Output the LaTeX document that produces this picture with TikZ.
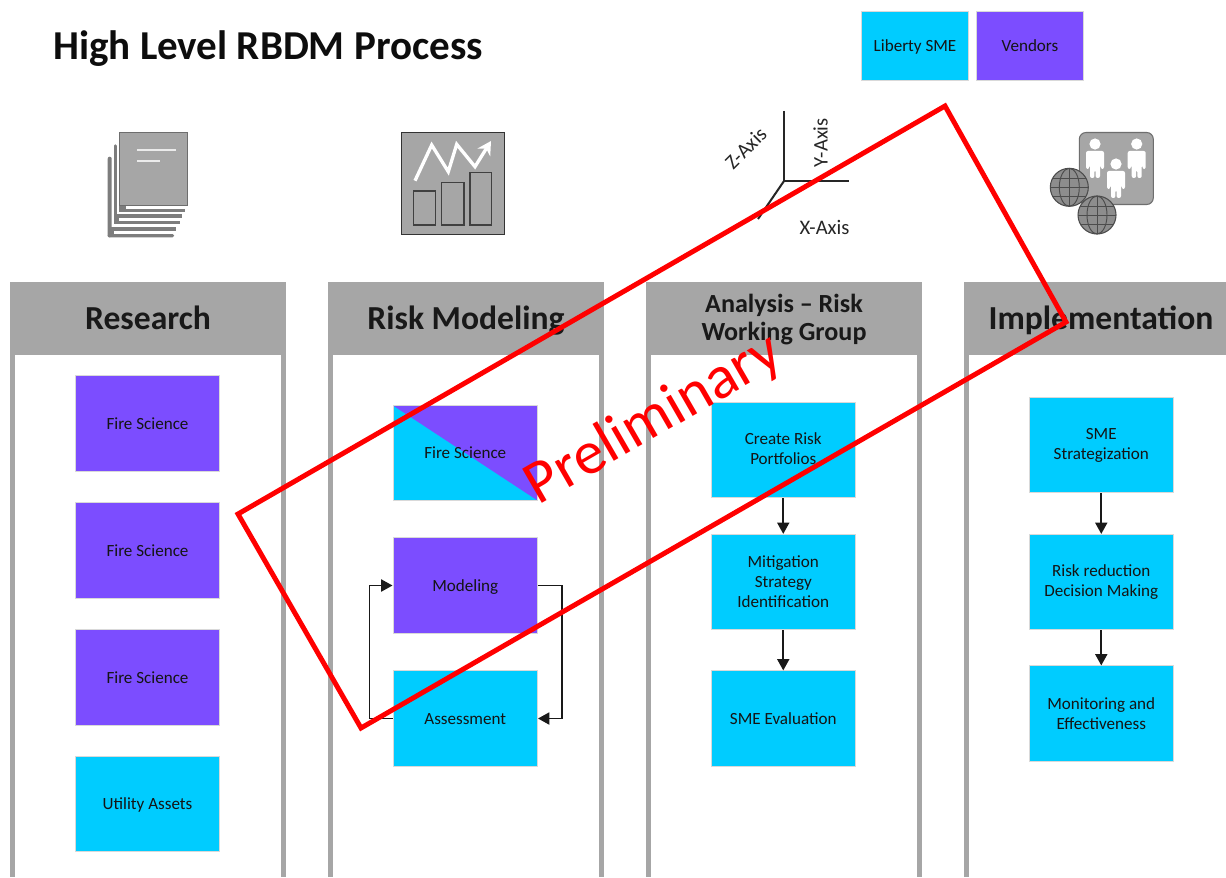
\documentclass[tikz,border=0pt]{standalone}
\usepackage{fontspec}
\setmainfont{Carlito}
\usetikzlibrary{arrows.meta,calc}
\definecolor{cy}{HTML}{00CCFF}
\definecolor{pu}{HTML}{7C4DFF}
\definecolor{gr}{HTML}{A6A6A6}
\definecolor{dk}{HTML}{6E6E6E}
\definecolor{rd}{HTML}{FF0000}
\tikzset{
  boxfont/.style={font=\fontsize{12.8}{15}\selectfont,text=black!92},
  box/.style={draw=black!15,line width=.6pt,minimum width=108.5pt,minimum height=71.5pt,inner sep=1pt,align=center,boxfont},
  oneline/.style={text height=8.6pt,text depth=0pt},
  cybox/.style={box,fill=cy},
  pubox/.style={box,fill=pu},
  keybox/.style={box,oneline,minimum width=80pt,minimum height=52pt},
  hdr/.style={inner sep=0pt,align=center,text=black!90,font=\bfseries\fontsize{25.2}{28}\selectfont,text height=17pt,text depth=1pt},
  hdrsm/.style={inner sep=0pt,align=center,text=black!90,font=\bfseries\fontsize{19.6}{21}\selectfont},
  flow/.style={draw=black!90,line width=1.4pt,-{Triangle[length=8.5pt,width=9pt]}},
  axis/.style={draw=black!85,line width=1.5pt},
  axlabel/.style={font=\fontsize{15.5}{18}\selectfont,text=black!85,inner sep=0pt},
  strip/.style={fill=dk!90!white,draw=none},
  icon/.style={draw=dk,fill=gr,line width=.9pt},
  bar/.style={draw=black!75,fill=gr,line width=.9pt},
  whiteln/.style={draw=white!92!black,line width=1.5pt},
  person/.style={fill=white,draw=none},
  globeln/.style={draw=black!70,line width=.7pt},
}
\newcommand{\panelat}[1]{%
  \fill[gr] (#1,282) rectangle ++(276,73);
  \fill[gr] (#1,355) rectangle ++(5,522);
  \fill[gr] (#1+271,355) rectangle ++(5,522);
}
\newcommand{\globeat}[2]{%
  \begin{scope}[shift={(#1,#2)}]
    \fill[gr!85!black] (0,0) circle [radius=19];
    \draw[globeln] (-19,0) -- (19,0) (-17,-9) -- (17,-9) (-17,9) -- (17,9) (0,-19) -- (0,19);
    \draw[globeln] (0,0) ellipse [x radius=10,y radius=19];
    \draw[draw=black!70,line width=.8pt] (0,0) circle [radius=19];
  \end{scope}
}
\newcommand{\personat}[3]{%
  \begin{scope}[shift={(#1,#2)},scale=#3]
    \fill[person] (0,-21) circle [radius=5.6];
    \fill[person,rounded corners=1.5] (-9,-14) -- (9,-14) -- (9,4) -- (5.8,4) -- (5.8,0) -- (5,0) -- (5,13) -- (.6,13) -- (.6,5) -- (-.6,5) -- (-.6,13) -- (-5,13) -- (-5,0) -- (-5.8,0) -- (-5.8,4) -- (-9,4) -- cycle;
  \end{scope}
}
\begin{document}
\begin{tikzpicture}[x=.75pt,y=-.75pt]
\useasboundingbox (0,0) rectangle (1226,877);
\clip (0,0) rectangle (1226,877);
\fill[white] (0,0) rectangle (1226,877);

\node[anchor=base west,inner sep=0pt,font=\bfseries\fontsize{30.8}{34}\selectfont,text=black!95] (title) at (53,59.5) {High Level RBDM Process};

\node[keybox,fill=cy] (k1) at (915,46) {Liberty SME};
\node[keybox,fill=pu] (k2) at (1030,46) {Vendors};

% icon 1: documents
\fill[strip,rounded corners=1.5] (107.7,156.7) rectangle (111.7,237.3);
\fill[strip,rounded corners=1] (107.7,234) rectangle (174,237.3);
\fill[strip] (107.7,227.3) rectangle (176,230.7);
\fill[strip] (107.7,227.3) rectangle (114,237.3);
\fill[strip,rounded corners=1] (114,144.3) rectangle (116.8,224);
\fill[strip] (114,214.3) rectangle (182.3,217.7);
\fill[strip] (114,220.7) rectangle (180.3,224);
\fill[strip] (114,214.3) rectangle (119.3,224);
\fill[strip] (119.3,205) rectangle (125.7,211.7);
\fill[strip] (119.3,209) rectangle (185,211.7);
\draw[icon] (119.5,132.5) rectangle (187.2,205.5);
\draw[whiteln] (137,150) -- (176,150);
\draw[whiteln] (137,161) -- (160,161);

% icon 2: chart
\draw[fill=gr,draw=black!80,line width=.8pt] (401.5,132.5) rectangle (504.2,234.2);
\draw[bar] (413.5,191) rectangle (435.3,225);
\draw[bar] (441.5,182.5) rectangle (464,225);
\draw[bar] (470,172.5) rectangle (491.7,225);
\draw[white,line width=2.5pt,line join=miter,-{Stealth[length=10pt,width=11pt]}] (415,180.7) -- (431.7,145) -- (448.3,171.7) -- (456.7,144.3) -- (475,166.7) -- (491,141);

% icon 3: axes
\draw[axis] (784,111) -- (784,181);
\draw[axis] (784,181) -- (849,181);
\draw[axis] (784,181) -- (758,219);
\node[axlabel,rotate=45] (z) at (745.7,148.3) {Z-Axis};
\node[axlabel,rotate=90] (y) at (820.5,142.7) {Y-Axis};
\node[axlabel] (x) at (824.5,227.5) {X-Axis};

% icon 4: people and globes
\draw[fill=gr,draw=dk,line width=.8pt,rounded corners=5] (1079.3,132.5) rectangle (1153.3,204.5);
\personat{1095}{165}{1}
\personat{1136.7}{165}{1}
\personat{1116}{185}{1}
\globeat{1069.3}{187.3}
\globeat{1097}{215}

% panels
\panelat{10}\panelat{328}\panelat{646}\panelat{964}
\node[hdr] (h1) at (148,318.5) {Research};
\node[hdr] (h2) at (466,318.5) {Risk Modeling};
\node[hdrsm] (h3) at (784,320) {Analysis – Risk\\Working Group};
\node[hdr] (h4) at (1101,318.5) {Implementation};

% column 1
\node[pubox,oneline] (a1) at (147.5,423.5) {Fire Science};
\node[pubox,oneline] (a2) at (147.5,550.5) {Fire Science};
\node[pubox,oneline] (a3) at (147.5,677.5) {Fire Science};
\node[cybox,oneline] (a4) at (147.5,804) {Utility Assets};

% column 2
\fill[cy] (393,405.5) rectangle (537.5,500.5);
\fill[pu] (393,405.5) -- (537.5,405.5) -- (537.5,500.5) -- cycle;
\node[box,oneline] (b1) at (465.25,453) {Fire Science};
\node[pubox,oneline] (b2) at (465.25,585.5) {Modeling};
\node[cybox,oneline] (b3) at (465.25,718.5) {Assessment};
\draw[flow] (b2.east) -- ++(24,0) |- (b3.east);
\draw[flow] (b3.west) -- ++(-23,0) |- (b2.west);

% column 3
\node[cybox,text depth=2.5pt] (c1) at (783.25,450) {Create Risk\\Portfolios};
\node[cybox] (c2) at (783.25,582) {Mitigation\\Strategy\\Identification};
\node[cybox,oneline] (c3) at (783.25,718.5) {SME Evaluation};
\draw[flow] (c1) -- (c2);
\draw[flow] (c2) -- (c3);

% column 4
\node[cybox] (d1) at (1101.25,445) {SME\\Strategization};
\node[cybox] (d2) at (1101.25,582) {Risk reduction\\Decision Making};
\node[cybox] (d3) at (1101.25,713.5) {Monitoring and\\Effectiveness};
\draw[flow] (d1) -- (d2);
\draw[flow] (d2) -- (d3);

% preliminary stamp
\draw[rd,line width=3.7pt,miter limit=10] (945,106) -- (1066,322) -- (361,728) -- (238,514) -- cycle;
\node[rd,rotate=30,inner sep=0pt,font=\fontsize{46}{50}\selectfont] (stamp) at (654,420) {Preliminary};
\end{tikzpicture}
\end{document}
